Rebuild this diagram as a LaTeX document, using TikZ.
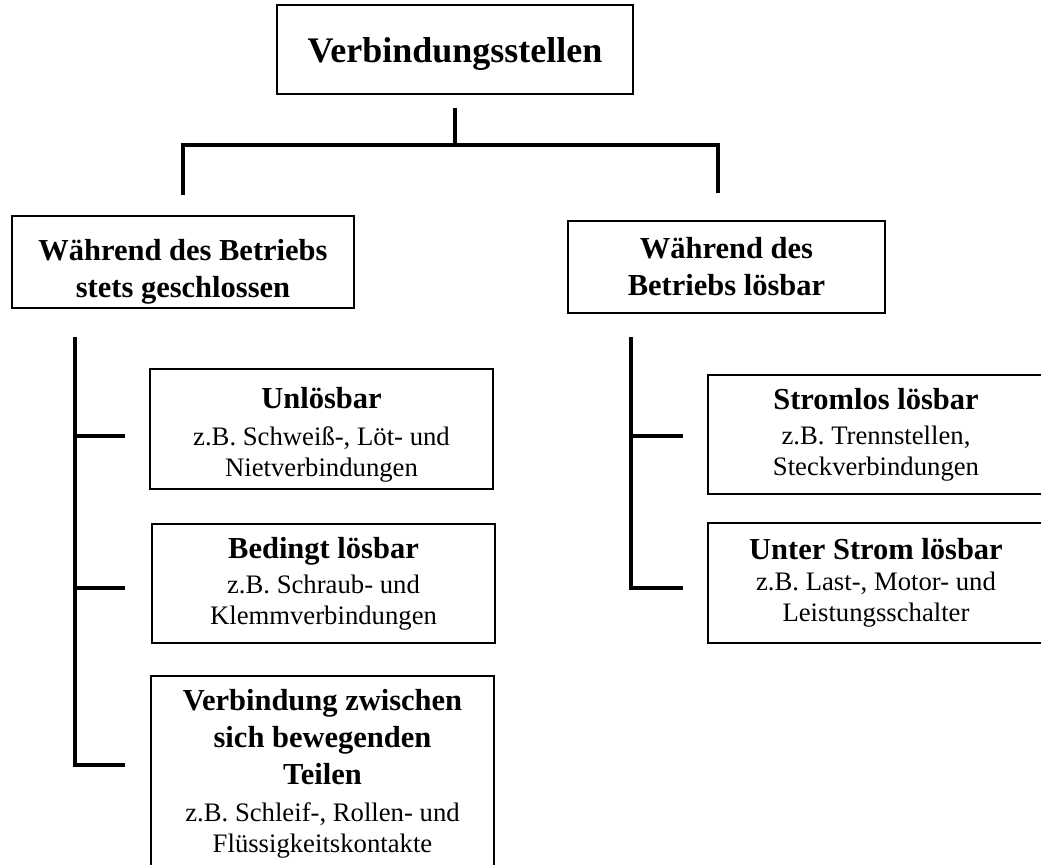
\documentclass[tikz,border=0pt]{standalone}
\usepackage{fontspec}
\setmainfont{Liberation Serif}
\usetikzlibrary{calc}

\newcommand{\topfont}{\fontsize{18}{22}\selectfont\bfseries}
\newcommand{\hdfont}{\fontsize{15.25}{18.5}\selectfont\bfseries}
\newcommand{\txtfont}{\fontsize{13.35}{15.5}\selectfont}

\begin{document}
\begin{tikzpicture}[x=0.5pt, y=-0.5pt,
    box/.style={draw, line width=0.7pt, align=center, inner sep=0pt, font=\txtfont},
    head/.style={box, font=\hdfont},
    tree/.style={line width=2pt}]

    \useasboundingbox (0,0) rectangle (1041,865);
    \clip (0,0) rectangle (1041,865);

    %top
    \node[box, font=\topfont, minimum width=178pt, minimum height=44.5pt] (top) at (455,49.5) {\rule{0pt}{17pt}Verbindungsstellen};

    %first level
    \node[head, minimum width=171pt, minimum height=46pt] (lp) at (183,262) {\rule{0pt}{20pt}Während des Betriebs\\ stets geschlossen};
    \node[head, minimum width=158.5pt, minimum height=46pt] (rp) at (726.5,267) {Während des\\ Betriebs lösbar};

    %left column
    \node[box, minimum width=171.5pt, minimum height=60pt] (u) at (321.5,429) {\rule{0pt}{16pt}{\hdfont Unlösbar}\\[3pt] z.B. Schweiß-, Löt- und\\ Nietverbindungen};
    \node[box, minimum width=171.5pt, minimum height=59.5pt] (b) at (323.5,583.5) {{\hdfont Bedingt lösbar}\\[2pt] z.B. Schraub- und\\ Klemmverbindungen};
    \node[box, minimum width=171.5pt, minimum height=98pt] (v) at (322.5,774) {{\hdfont Verbindung zwischen}\\[3pt] {\hdfont sich bewegenden}\\[3pt] {\hdfont Teilen}\\[3pt] z.B. Schleif-, Rollen- und\\ Flüssigkeitskontakte};

    %right column
    \node[box, minimum width=168pt, minimum height=59.5pt] (s) at (876,434.5) {{\hdfont Stromlos lösbar}\\[2pt] z.B. Trennstellen,\\ Steckverbindungen};
    \node[box, minimum width=168pt, minimum height=60pt] (us) at (876,583) {{\hdfont Unter Strom lösbar}\\ z.B. Last-, Motor- und\\ Leistungsschalter};

    %connection top
    \coordinate (bus) at (455,145);
    \coordinate (dl) at (183,195);
    \coordinate (dr) at (718,193);
    \draw[tree] ($(top.south)+(0,13)$) -- (bus);
    \draw[tree] (dl) -- (dl |- bus) -- (dr |- bus) -- (dr);

    %left tree
    \coordinate (lt) at (75,337);
    \coordinate (l1) at (125,436);
    \coordinate (l2) at (125,588);
    \coordinate (l3) at (125,765);
    \draw[tree] (lt) -- (lt |- l3) -- (l3);
    \foreach \c in {l1,l2}{
        \draw[tree] (lt |- \c) -- (\c);
    };

    %right tree
    \coordinate (rt) at (631,337);
    \coordinate (r1) at (683,436);
    \coordinate (r2) at (683,588);
    \draw[tree] (rt) -- (rt |- r2) -- (r2);
    \draw[tree] (rt |- r1) -- (r1);
\end{tikzpicture}
\end{document}
